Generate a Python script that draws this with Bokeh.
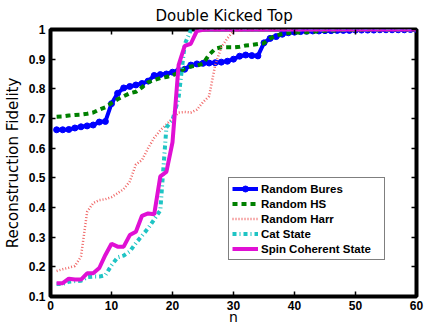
from bokeh.plotting import figure
from bokeh.models import Range1d, FixedTicker, LinearAxis, Legend, LegendItem
from bokeh.embed import file_html
from bokeh.resources import INLINE

n = list(range(1, 61))

random_bures = [0.662, 0.662, 0.663, 0.668, 0.672, 0.675, 0.678, 0.688, 0.690, 0.750,
                0.785, 0.803, 0.808, 0.813, 0.818, 0.826, 0.845, 0.848, 0.850, 0.856,
                0.862, 0.866, 0.880, 0.884, 0.886, 0.887, 0.888, 0.890, 0.893, 0.900,
                0.910, 0.914, 0.912, 0.911, 0.955, 0.970, 0.976, 0.984, 0.989, 0.991,
                0.993, 0.994, 0.995, 0.995, 0.996, 0.996, 0.997, 0.997, 0.997, 0.998,
                0.998, 0.998, 0.998, 0.999, 0.999, 0.999, 0.999, 0.999, 1.000, 1.000]

random_hs = [0.706, 0.707, 0.710, 0.712, 0.713, 0.716, 0.720, 0.730, 0.738, 0.752,
             0.765, 0.775, 0.785, 0.790, 0.805, 0.822, 0.830, 0.836, 0.840, 0.845,
             0.855, 0.868, 0.875, 0.878, 0.885, 0.915, 0.935, 0.940, 0.940, 0.940,
             0.942, 0.946, 0.948, 0.951, 0.954, 0.970, 0.980, 0.985, 0.988, 0.990,
             0.990, 0.991, 0.992, 0.994, 0.996, 0.997, 0.997, 0.998, 0.998, 0.998,
             0.999, 0.999, 0.999, 0.999, 0.999, 1.000, 1.000, 1.000, 1.000, 1.000]

random_harr = [0.186, 0.192, 0.197, 0.203, 0.235, 0.385, 0.415, 0.425, 0.428, 0.435,
               0.448, 0.462, 0.488, 0.545, 0.560, 0.600, 0.635, 0.660, 0.680, 0.700,
               0.720, 0.722, 0.720, 0.730, 0.755, 0.775, 0.880, 0.940, 0.970, 0.995,
               0.998, 0.999, 1.000, 1.000, 1.000, 1.000, 1.000, 1.000, 1.000, 1.000,
               1.000, 1.000, 1.000, 1.000, 1.000, 1.000, 1.000, 1.000, 1.000, 1.000,
               1.000, 1.000, 1.000, 1.000, 1.000, 1.000, 1.000, 1.000, 1.000, 1.000]

cat_state = [0.142, 0.142, 0.150, 0.152, 0.153, 0.165, 0.167, 0.167, 0.172, 0.205,
             0.232, 0.238, 0.252, 0.280, 0.305, 0.330, 0.360, 0.390, 0.670, 0.695,
             0.770, 0.950, 0.998, 1.000, 1.000, 1.000, 1.000, 1.000, 1.000, 1.000,
             1.000, 1.000, 1.000, 1.000, 1.000, 1.000, 1.000, 1.000, 1.000, 1.000,
             1.000, 1.000, 1.000, 1.000, 1.000, 1.000, 1.000, 1.000, 1.000, 1.000,
             1.000, 1.000, 1.000, 1.000, 1.000, 1.000, 1.000, 1.000, 1.000, 1.000]

spin_coherent = [0.145, 0.145, 0.160, 0.157, 0.157, 0.178, 0.178, 0.196, 0.240, 0.278,
                 0.268, 0.268, 0.307, 0.318, 0.372, 0.380, 0.377, 0.505, 0.520, 0.620,
                 0.880, 0.945, 0.952, 0.995, 0.999, 1.000, 1.000, 1.000, 1.000, 1.000,
                 1.000, 1.000, 1.000, 1.000, 1.000, 1.000, 1.000, 1.000, 1.000, 1.000,
                 1.000, 1.000, 1.000, 1.000, 1.000, 1.000, 1.000, 1.000, 1.000, 1.000,
                 1.000, 1.000, 1.000, 1.000, 1.000, 1.000, 1.000, 1.000, 1.000, 1.000]

x_ticks = [0, 10, 20, 30, 40, 50, 60]
x_tick_labels = ["0", "10", "20", "30", "40", "50", "60"]
y_ticks = [0.1, 0.2, 0.3, 0.4, 0.5, 0.6, 0.7, 0.8, 0.9, 1.0]
y_tick_labels = ["0.1", "0.2", "0.3", "0.4", "0.5", "0.6", "0.7", "0.8", "0.9", "1"]

series_names = ["Random Bures", "Random HS", "Random Harr", "Cat State", "Spin Coherent State"]

p = figure(width=436, height=327, x_range=Range1d(0, 60), y_range=Range1d(0.1, 1.0),
           title="Double Kicked Top",
           toolbar_location=None, output_backend="svg",
           min_border_left=50, min_border_right=20, min_border_top=28, min_border_bottom=30)
p.background_fill_color = "white"
p.border_fill_color = "white"
p.xgrid.visible = False
p.ygrid.visible = False
p.outline_line_color = "black"
p.outline_line_width = 4

p.title.text_font = "DejaVu Sans"
p.title.text_font_style = "normal"
p.title.text_font_size = "15px"
p.title.text_color = "black"
p.title.align = "left"
p.title.offset = 105
p.title.standoff = 9

tick_font = "Liberation Sans"

def style_axis(ax, show_labels=True):
    ax.axis_line_color = None
    ax.major_tick_in = 5
    ax.major_tick_out = 0
    ax.major_tick_line_width = 1.5
    ax.major_tick_line_color = "black"
    ax.minor_tick_line_color = None
    if show_labels:
        ax.major_label_text_font = tick_font
        ax.major_label_text_font_style = "bold"
        ax.major_label_text_font_size = "12px"
        ax.major_label_text_color = "black"
    else:
        ax.major_label_text_font_size = "1px"
        ax.major_label_text_color = None
        ax.major_label_standoff = 0

xa = p.xaxis[0]
xa.ticker = FixedTicker(ticks=x_ticks)
xa.major_label_overrides = dict(zip(x_ticks, x_tick_labels))
style_axis(xa)
xa.major_label_standoff = 4
xa.axis_label = "n"
xa.axis_label_text_font = "DejaVu Sans"
xa.axis_label_text_font_style = "normal"
xa.axis_label_text_font_size = "14px"
xa.axis_label_text_color = "black"
xa.axis_label_standoff = -4

ya = p.yaxis[0]
ya.ticker = FixedTicker(ticks=y_ticks)
ya.major_label_overrides = dict(zip(y_ticks, y_tick_labels))
style_axis(ya)
ya.major_label_standoff = 5
ya.axis_label = "Reconstruction Fidelity"
ya.axis_label_text_font = "DejaVu Sans"
ya.axis_label_text_font_style = "normal"
ya.axis_label_text_font_size = "15px"
ya.axis_label_text_color = "black"
ya.axis_label_standoff = 4

top_axis = LinearAxis(ticker=FixedTicker(ticks=x_ticks))
style_axis(top_axis, show_labels=False)
p.add_layout(top_axis, "above")
right_axis = LinearAxis(ticker=FixedTicker(ticks=y_ticks))
style_axis(right_axis, show_labels=False)
p.add_layout(right_axis, "right")

r_bures = p.line(n, random_bures, line_color="#0000ff", line_width=4)
r_bures_pts = p.scatter(n, random_bures, marker="circle", size=6, fill_color="#0000ff", line_color="#0000ff")
r_hs = p.line(n, random_hs, line_color="#008000", line_width=4, line_dash="5 4")
r_harr = p.line(n, random_harr, line_color="#f06868", line_width=2.5, line_dash="1 2")
r_cat = p.line(n, cat_state, line_color="#1ec4c4", line_width=4, line_dash="4 3 1 3")
r_spin = p.line(n, spin_coherent, line_color="#e010d4", line_width=4)

legend = Legend(items=[
    LegendItem(label=series_names[0], renderers=[r_bures, r_bures_pts]),
    LegendItem(label=series_names[1], renderers=[r_hs]),
    LegendItem(label=series_names[2], renderers=[r_harr]),
    LegendItem(label=series_names[3], renderers=[r_cat]),
    LegendItem(label=series_names[4], renderers=[r_spin]),
], location=(178, 36))
legend.label_text_font = tick_font
legend.label_text_font_style = "bold"
legend.label_text_font_size = "11.5px"
legend.label_text_color = "black"
legend.border_line_color = "black"
legend.border_line_width = 1.5
legend.background_fill_color = "white"
legend.background_fill_alpha = 1.0
legend.padding = 3
legend.spacing = 0
legend.margin = 0
legend.label_height = 15
legend.glyph_height = 15
legend.glyph_width = 26
legend.label_standoff = 3
legend.label_width = 120
p.add_layout(legend)

open("out.html", "w").write(file_html(p, INLINE))
